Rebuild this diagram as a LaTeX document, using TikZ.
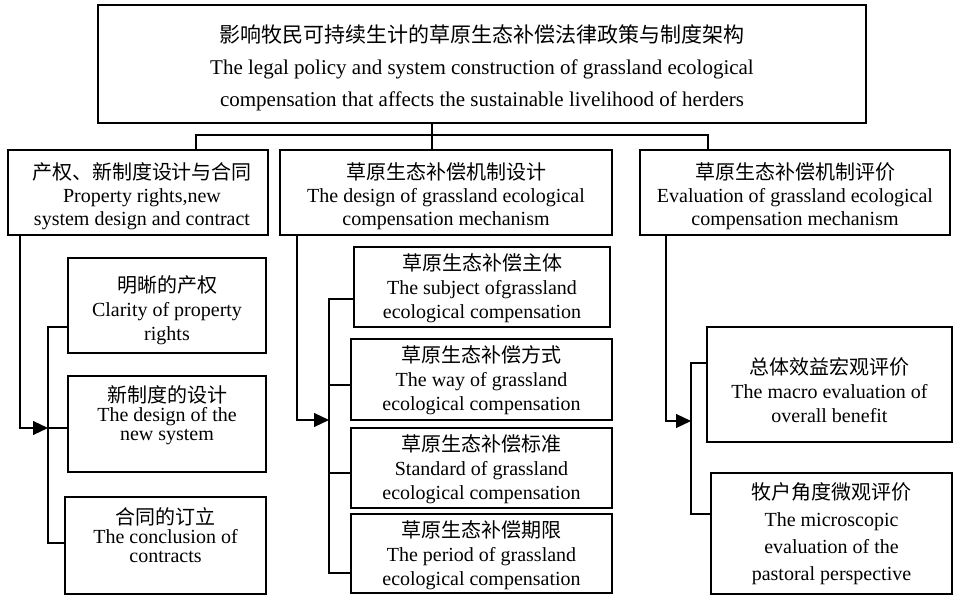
\documentclass[tikz,border=0pt]{standalone}
\usepackage{fontspec}
\setmainfont{Liberation Serif}
\newfontfamily\cjk{Noto Sans CJK SC}
\usetikzlibrary{fit,arrows.meta}
\newcommand\zh[1]{{\cjk #1}}
\begin{document}
\begin{tikzpicture}[x=1pt,y=-1pt,
  box/.style={draw, line width=1.2pt, inner sep=0pt},
  ln/.style={line width=1.2pt},
  arr/.style={line width=1.2pt, -{Triangle[length=15pt,width=14pt]}},
  txt/.style={align=center, inner sep=0pt, font=\fontsize{20}{24}\selectfont},
  toptxt/.style={align=center, inner sep=0pt, font=\fontsize{21}{32}\selectfont}]
\useasboundingbox (0,0) rectangle (954,596);
% boxes
\node[box, fit={(98,5) (866,123)}] (top) {};
\node[box, fit={(8,150) (268,235)}] (c1) {};
\node[box, fit={(280,150) (612,235)}] (c2) {};
\node[box, fit={(640,150) (950,235)}] (c3) {};
\node[box, fit={(68,258) (266,353)}] (l1) {};
\node[box, fit={(68,376) (266,472)}] (l2) {};
\node[box, fit={(65,497) (266,594)}] (l3) {};
\node[box, fit={(354,247) (610,327)}] (m1) {};
\node[box, fit={(351,339) (612,420)}] (m2) {};
\node[box, fit={(351,428) (612,508)}] (m3) {};
\node[box, fit={(351,514) (612,593)}] (m4) {};
\node[box, fit={(707,327) (952,442)}] (r1) {};
\node[box, fit={(711,473) (952,594)}] (r2) {};
% texts
\node[toptxt] (topt) at (top.center |- 0,68) {\zh{影响牧民可持续生计的草原生态补偿法律政策与制度架构}\\The legal policy and system construction of grassland ecological\\compensation that affects the sustainable livelihood of herders};
\node[txt, font=\fontsize{20}{23}\selectfont] (c1t) at (142,196) {\zh{产权、新制度设计与合同}\\Property rights,new\\system design and contract};
\node[txt, font=\fontsize{20}{23}\selectfont] (c2t) at (c2.center |- 0,196) {\zh{草原生态补偿机制设计}\\The design of grassland ecological\\compensation mechanism};
\node[txt, font=\fontsize{20}{23}\selectfont] (c3t) at (c3.center |- 0,196) {\zh{草原生态补偿机制评价}\\Evaluation of grassland ecological\\compensation mechanism};
\node[txt] (l1t) at (l1.center |- 0,310) {\zh{明晰的产权}\\Clarity of property\\rights};
\node[txt, font=\fontsize{20}{19}\selectfont] (l2t) at (l2.center |- 0,415) {\zh{新制度的设计}\\The design of the\\new system};
\node[txt, font=\fontsize{20}{19}\selectfont] (l3t) at (l3.center |- 0,535) {\zh{合同的订立}\\The conclusion of\\contracts};
\node[txt] (m1t) at (m1.center |- 0,288) {\zh{草原生态补偿主体}\\The subject ofgrassland\\ecological compensation};
\node[txt] (m2t) at (m2.center |- 0,380) {\zh{草原生态补偿方式}\\The way of grassland\\ecological compensation};
\node[txt] (m3t) at (m3.center |- 0,469) {\zh{草原生态补偿标准}\\Standard of grassland\\ecological compensation};
\node[txt] (m4t) at (m4.center |- 0,555) {\zh{草原生态补偿期限}\\The period of grassland\\ecological compensation};
\node[txt] (r1t) at (r1.center |- 0,390) {\zh{总体效益宏观评价}\\The macro evaluation of\\overall benefit};
\node[txt, font=\fontsize{20}{27}\selectfont] (r2t) at (r2.center |- 0,534) {\zh{牧户角度微观评价}\\The microscopic\\evaluation of the\\pastoral perspective};
% top connectors
\coordinate (j) at (432,135);
\draw[ln] (top.south -| j) -- (c2.north -| j);
\draw[ln] (c1.north -| 196,0) -- (196,135) -- (708,135) -- (c3.north -| 708,0);
% left subtree
\coordinate (lb) at (48,0);
\draw[arr] (c1.south -| 20,0) |- (lb |- 0,428);
\draw[ln] (l1.west |- 0,327) -- (lb |- 0,327) -- (lb |- 0,543) -- (l3.west |- 0,543);
\draw[ln] (lb |- 0,428) -- (l2.west |- 0,428);
% middle subtree
\coordinate (mb) at (329,0);
\draw[arr] (c2.south -| 297,0) |- (mb |- 0,420);
\draw[ln] (m1.west |- 0,299) -- (mb |- 0,299) -- (mb |- 0,573) -- (m4.west |- 0,573);
\draw[ln] (mb |- 0,385) -- (m2.west |- 0,385);
\draw[ln] (mb |- 0,473) -- (m3.west |- 0,473);
% right subtree
\coordinate (rb) at (691,0);
\draw[arr] (c3.south -| 666,0) |- (rb |- 0,421);
\draw[ln] (r1.west |- 0,363) -- (rb |- 0,363) -- (rb |- 0,514) -- (r2.west |- 0,514);
\end{tikzpicture}
\end{document}
